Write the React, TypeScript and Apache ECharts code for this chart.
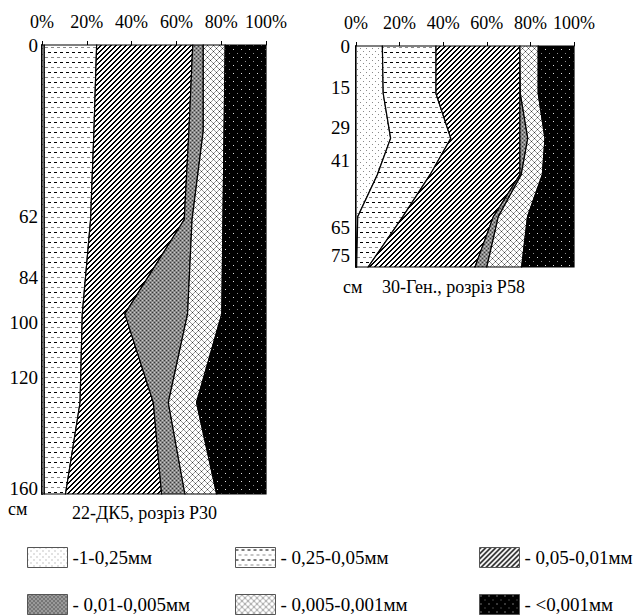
import React, { useEffect, useRef } from "react";
import * as echarts from "echarts";

// Particle-size fractions (legend order)
const FRACTIONS = ["1-0,25мм", "0,25-0,05мм", "0,05-0,01мм", "0,01-0,005мм", "0,005-0,001мм", "<0,001мм"];
const LEGEND_PREFIX = ["-", "- ", "- ", "- ", "- ", "- "];
const X_TICKS = [0, 20, 40, 60, 80, 100];

// Profile 22-ДК5, розріз Р30 (depth, cm; fraction shares, %)
const P30_TITLE = "22-ДК5, розріз Р30";
const P30_DEPTHS = [0, 31, 63, 97, 129, 162];
const P30_LABELS = [0, 62, 84, 100, 120, 160];
const P30_F1 = [1, 1, 1, 1, 1, 1];
const P30_F2 = [23.4, 22.2, 20.7, 17, 16, 9.5];
const P30_F3 = [42.9, 42.4, 41.8, 19, 32.7, 42.9];
const P30_F4 = [4.7, 6.4, 3.5, 28, 6.7, 10.4];
const P30_F5 = [9.8, 9.3, 13.8, 15.3, 12.6, 14.2];
const P30_F6 = [18.2, 18.7, 19.2, 19.7, 31, 22];

// Profile 30-Ген., розріз Р58
const P58_TITLE = "30-Ген., розріз Р58";
const P58_DEPTHS = [0, 17, 33, 46, 61, 79];
const P58_LABELS = [0, 15, 29, 41, 65, 75];
const P58_F1 = [12.1, 12.5, 15.9, 9.8, 0.8, 0.3];
const P58_F2 = [24.6, 24.2, 27.6, 24.2, 20.7, 5.3];
const P58_F3 = [38.5, 38.5, 31.7, 41.2, 41.5, 49];
const P58_F4 = [0, 0.2, 3.6, 0.6, 2.3, 5.4];
const P58_F5 = [8.4, 8.2, 7.9, 9.7, 13.4, 16];
const P58_F6 = [16.4, 16.4, 13.3, 14.5, 21.3, 24];

const FONT = "Liberation Serif";

function makeTile(w: number, h: number, bg: string, paint: (x: number, y: number) => string | null) {
  const c = document.createElement("canvas");
  c.width = w;
  c.height = h;
  const ctx = c.getContext("2d")!;
  ctx.fillStyle = bg;
  ctx.fillRect(0, 0, w, h);
  for (let y = 0; y < h; y++) {
    for (let x = 0; x < w; x++) {
      const col = paint(x, y);
      if (col) {
        ctx.fillStyle = col;
        ctx.fillRect(x, y, 1, 1);
      }
    }
  }
  return { image: c, repeat: "repeat", imageWidth: w, imageHeight: h } as any;
}

function makePatterns() {
  return [
    // 1-0.25: sparse gray dots on white
    makeTile(6, 6, "#ffffff", (x, y) => ((x === 0 && y === 0) || (x === 3 && y === 3) ? "#8a8a8a" : null)),
    // 0.25-0.05: dashes, alternating black and gray rows
    makeTile(6, 10, "#ffffff", (x, y) => {
      if (y === 2 && x < 3) return "#000000";
      if (y === 7 && x >= 3) return "#8a8a8a";
      return null;
    }),
    // 0.05-0.01: diagonal hatch
    makeTile(5, 5, "#ffffff", (x, y) => ((x + y) % 5 < 2 ? "#000000" : null)),
    // 0.01-0.005: gray with dotted texture
    makeTile(4, 4, "#8a8a8a", (x, y) => {
      if ((x === 0 && y === 0) || (x === 2 && y === 2)) return "#3a3a3a";
      if ((x === 2 && y === 0) || (x === 0 && y === 2)) return "#c8c8c8";
      return null;
    }),
    // 0.005-0.001: cross-hatch
    makeTile(6, 6, "#ffffff", (x, y) => {
      const a = (x + y) % 6 === 0;
      const b = (x - y + 6) % 6 === 0;
      if (a && b) return "#333333";
      if (a || b) return "#9a9a9a";
      return null;
    }),
    // <0.001: black with light dots
    makeTile(8, 8, "#000000", (x, y) => {
      if (x === 1 && y === 1) return "#e0e0e0";
      if (x === 5 && y === 5) return "#8a8a8a";
      return null;
    }),
  ];
}

function buildRows(depths: number[], fracs: number[][]) {
  // for each fraction: rows [depth, lower cumulative %, upper cumulative %]
  const result: number[][][] = [];
  const cum = depths.map(() => 0);
  fracs.forEach((f) => {
    const rows = depths.map((d, i) => {
      const lo = cum[i];
      const hi = Math.min(100, lo + f[i]);
      cum[i] = hi;
      return [d, +lo.toFixed(2), +hi.toFixed(2)];
    });
    result.push(rows);
  });
  return result;
}

export default function App() {
  const ref = useRef<HTMLDivElement>(null);

  useEffect(() => {
    if (!ref.current) return;
    const chart = echarts.init(ref.current, null, { renderer: "svg" });
    const patterns = makePatterns();

    const profiles = [
      { depths: P30_DEPTHS, labels: P30_LABELS, fracs: [P30_F1, P30_F2, P30_F3, P30_F4, P30_F5, P30_F6] },
      { depths: P58_DEPTHS, labels: P58_LABELS, fracs: [P58_F1, P58_F2, P58_F3, P58_F4, P58_F5, P58_F6] },
    ];

    const series: any[] = [];
    profiles.forEach((p, ci) => {
      const rows = buildRows(p.depths, p.fracs);
      rows.forEach((data, k) => {
        const pat = patterns[k];
        series.push({
          type: "custom",
          name: FRACTIONS[k],
          xAxisIndex: ci,
          yAxisIndex: ci,
          data,
          encode: { x: [1, 2], y: 0 },
          itemStyle: { color: pat, borderColor: "#000", borderWidth: 1 },
          silent: true,
          renderItem: (params: any, api: any) => {
            if (params.dataIndexInside !== 0) return null;
            const n = params.dataInsideLength;
            const pts: number[][] = [];
            for (let i = 0; i < n; i++) pts.push(api.coord([api.value(1, i), api.value(0, i)]));
            for (let i = n - 1; i >= 0; i--) pts.push(api.coord([api.value(2, i), api.value(0, i)]));
            return {
              type: "polygon",
              shape: { points: pts },
              style: { fill: pat, stroke: "#000", lineWidth: 1.2 },
            };
          },
        });
      });
    });

    const xAxisBase = (gi: number) => ({
      type: "value",
      gridIndex: gi,
      position: "top",
      min: 0,
      max: 100,
      interval: 20,
      axisLine: { show: true, lineStyle: { color: "#000", width: 1 } },
      axisTick: { show: true, length: 4, lineStyle: { color: "#000" }, customValues: X_TICKS },
      axisLabel: {
        customValues: X_TICKS,
        formatter: "{value}%",
        margin: 14,
        color: "#000",
        fontFamily: FONT,
        fontSize: 18,
      },
      splitLine: { show: false },
    });

    const yAxisBase = (gi: number, max: number, labels: number[], margin: number) => ({
      type: "value",
      gridIndex: gi,
      inverse: true,
      min: 0,
      max,
      axisLine: { show: true, onZero: false, lineStyle: { color: "#000", width: 2 } },
      axisTick: { show: false },
      axisLabel: {
        customValues: labels,
        margin,
        color: "#000",
        fontFamily: FONT,
        fontSize: 19,
      },
      splitLine: { show: false },
    });

    const legendPos = [
      [27, 547],
      [235, 547],
      [479, 547],
      [27, 594],
      [235, 594],
      [479, 594],
    ];

    const legends = FRACTIONS.map((name, k) => ({
      data: [name],
      left: legendPos[k][0],
      top: legendPos[k][1],
      padding: 0,
      itemWidth: 40,
      itemHeight: 20,
      icon: "rect",
      selectedMode: false,
      formatter: () => LEGEND_PREFIX[k] + name,
      itemStyle: { borderColor: "#555", borderWidth: 1 },
      textStyle: { fontFamily: FONT, fontSize: 19, color: "#000" },
    }));

    const titleStyle = { fontFamily: FONT, fontSize: 18, fontWeight: "normal", color: "#000" };

    chart.setOption({
      animation: false,
      backgroundColor: "#fff",
      title: [
        { text: "см", left: 8, top: 500, padding: 0, textStyle: titleStyle },
        { text: P30_TITLE, left: 72, top: 504, padding: 0, textStyle: titleStyle },
        { text: "см", left: 343, top: 278, padding: 0, textStyle: titleStyle },
        { text: P58_TITLE, left: 382, top: 278, padding: 0, textStyle: titleStyle },
      ],
      legend: legends,
      grid: [
        { left: 42, top: 45, width: 224, height: 449, containLabel: false },
        { left: 356, top: 46, width: 218, height: 221, containLabel: false },
      ],
      xAxis: [xAxisBase(0), xAxisBase(1)],
      yAxis: [
        yAxisBase(0, P30_DEPTHS[P30_DEPTHS.length - 1], P30_LABELS, 4),
        yAxisBase(1, P58_DEPTHS[P58_DEPTHS.length - 1], P58_LABELS, 6),
      ],
      series,
    });

    return () => chart.dispose();
  }, []);

  return <div ref={ref} style={{ position: "absolute", left: 0, top: 0, width: 634, height: 615 }} />;
}
